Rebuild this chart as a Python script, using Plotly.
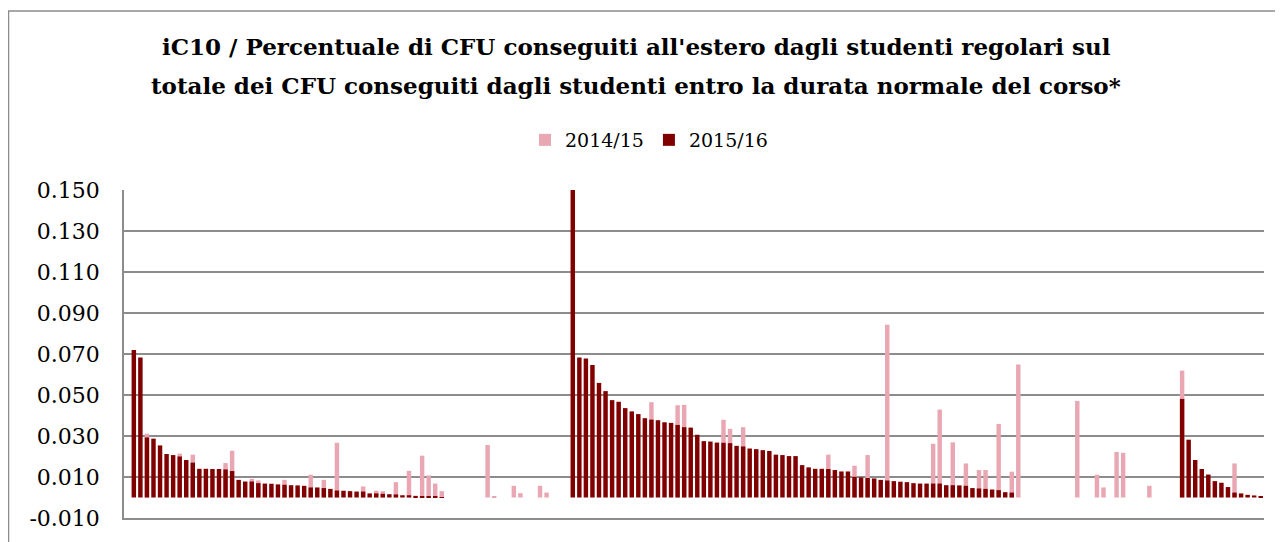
import plotly.graph_objects as go

# 174 courses (no labels shown on the x axis)
corsi = [f"C{i:03d}" for i in range(174)]

# 2015/16 values (dark red, drawn in front)
val_2015_16 = [
    None, 0.0719, 0.0683, 0.0293, 0.0287, 0.0254, 0.0212, 0.0207, 0.0200, 0.0183,
    0.0170, 0.0140, 0.0140, 0.0139, 0.0139, 0.0137, 0.0129, 0.0086, 0.0078, 0.0078,
    0.0070, 0.0068, 0.0067, 0.0064, 0.0062, 0.0060, 0.0059, 0.0057, 0.0049, 0.0049,
    0.0046, 0.0042, 0.0034, 0.0033, 0.0031, 0.0029, 0.0029, 0.0020, 0.0020, 0.0018,
    0.0016, 0.0015, 0.0011, 0.0011, 0.0008, 0.0005, 0.0005, 0.0003, 0.0002, None,
    None, None, None, None, None, None, None, None, None, None,
    None, None, None, None, None, None, None, None, 0.1500, 0.0683,
    0.0678, 0.0646, 0.0559, 0.0519, 0.0475, 0.0467, 0.0436, 0.0420, 0.0407, 0.0387,
    0.0380, 0.0377, 0.0367, 0.0364, 0.0354, 0.0343, 0.0341, 0.0306, 0.0275, 0.0273,
    0.0268, 0.0267, 0.0265, 0.0252, 0.0249, 0.0239, 0.0236, 0.0231, 0.0227, 0.0209,
    0.0207, 0.0202, 0.0202, 0.0158, 0.0147, 0.0140, 0.0140, 0.0139, 0.0134, 0.0127,
    0.0127, 0.0101, 0.0098, 0.0095, 0.0093, 0.0086, 0.0083, 0.0080, 0.0077, 0.0075,
    0.0070, 0.0068, 0.0068, 0.0068, 0.0068, 0.0060, 0.0060, 0.0059, 0.0057, 0.0046,
    0.0044, 0.0042, 0.0039, 0.0036, 0.0026, 0.0024, None, None, None, None,
    None, None, None, None, None, None, None, None, None, None,
    None, None, None, None, None, None, None, None, None, None,
    None, 0.0481, 0.0282, 0.0183, 0.0139, 0.0112, 0.0080, 0.0072, 0.0051, 0.0024,
    0.0020, 0.0013, 0.0010, 0.0007,
]

# 2014/15 values (pink, drawn behind); None where not visible / missing
val_2014_15 = [
    None, None, None, 0.0311, None, None, None, None, 0.0214, None,
    0.0209, None, None, None, None, 0.0168, 0.0228, None, None, 0.0091,
    0.0083, None, None, None, 0.0086, None, None, None, 0.0111, None,
    0.0086, None, 0.0267, None, None, None, 0.0054, None, 0.0033, 0.0031,
    None, 0.0075, None, 0.0130, None, 0.0204, 0.0108, 0.0068, 0.0031, None,
    None, None, None, None, None, 0.0256, 0.0005, None, None, 0.0057,
    0.0021, None, None, 0.0057, 0.0024, None, None, None, None, None,
    None, None, None, None, None, None, None, None, None, None,
    0.0465, None, None, None, 0.0450, 0.0452, None, None, None, None,
    None, 0.0379, 0.0335, None, 0.0343, None, None, None, None, None,
    None, None, None, None, None, None, None, 0.0209, None, None,
    None, 0.0155, None, 0.0207, None, None, 0.0843, None, None, None,
    None, None, None, 0.0262, 0.0429, None, 0.0269, None, 0.0166, None,
    0.0134, 0.0134, None, 0.0359, None, 0.0126, 0.0649, None, None, None,
    None, None, None, None, None, 0.0471, None, None, 0.0111, 0.0049,
    None, 0.0222, 0.0218, None, None, None, 0.0057, None, None, None,
    None, 0.0619, None, None, None, None, None, None, None, 0.0166,
    None, None, None, None,
]

tick_vals = [-0.010, 0.010, 0.030, 0.050, 0.070, 0.090, 0.110, 0.130, 0.150]
tick_text = ["-0.010", "0.010", "0.030", "0.050", "0.070", "0.090", "0.110", "0.130", "0.150"]

title_lines = [
    "iC10 / Percentuale di CFU conseguiti all'estero dagli studenti regolari sul",
    "totale dei CFU conseguiti dagli studenti entro la durata normale del corso*",
]

PINK = "#E9A7B3"
DARK = "#800000"
GRID = "#8C8C8C"
SERIF = "DejaVu Serif"

# figure-pixel geometry (page has an 8px body margin)
W, H = 1275, 534
L, R, T, B = 116, 19, 182, 24
PW, PH = W - L - R, H - T - B


def px_x(fx):
    return (fx - L) / PW


def px_y(fy):
    return (H - B - fy) / PH


fig = go.Figure()
fig.add_trace(go.Bar(x=corsi, y=val_2014_15, name="2014/15", marker_color=PINK,
                     marker_line_width=0))
fig.add_trace(go.Bar(x=corsi, y=val_2015_16, name="2015/16", marker_color=DARK,
                     marker_line_width=0))

annotations = [
    dict(text=f"<b>{title_lines[0]}</b>", xref="paper", yref="paper",
         x=px_x(628), y=px_y(39), xanchor="center", yanchor="middle", showarrow=False,
         font=dict(family=SERIF, size=23, color="black")),
    dict(text=f"<b>{title_lines[1]}</b>", xref="paper", yref="paper",
         x=px_x(628), y=px_y(77), xanchor="center", yanchor="middle", showarrow=False,
         font=dict(family=SERIF, size=23, color="black")),
]

fig.update_layout(
    width=W, height=H,
    margin=dict(l=L, r=R, t=T, b=B),
    paper_bgcolor="white", plot_bgcolor="white",
    barmode="overlay", bargap=0.32,
    annotations=annotations,
    legend=dict(
        orientation="h", x=px_x(641), xanchor="center", y=px_y(132), yanchor="middle",
        font=dict(family=SERIF, size=19, color="black"),
        traceorder="normal", itemwidth=30, bgcolor="rgba(0,0,0,0)",
    ),
    showlegend=True,
    shapes=[dict(type="rect", xref="paper", yref="paper",
                 x0=px_x(0.5), x1=px_x(W + 20),
                 y0=px_y(H + 20), y1=px_y(3),
                 line=dict(color=GRID, width=1.5), layer="below")],
)
fig.update_xaxes(showticklabels=False, showgrid=False, zeroline=False,
                 showline=True, linecolor=GRID, linewidth=1.5, ticks="")
fig.update_yaxes(range=[-0.010, 0.150], tickvals=tick_vals, ticktext=tick_text,
                 showgrid=True, gridcolor=GRID, gridwidth=1.5,
                 zeroline=False, showline=True, linecolor=GRID, linewidth=1.5,
                 ticks="", ticklen=0, ticklabelstandoff=18,
                 tickfont=dict(family=SERIF, size=22, color="black"))

fig.write_html("out.html")
